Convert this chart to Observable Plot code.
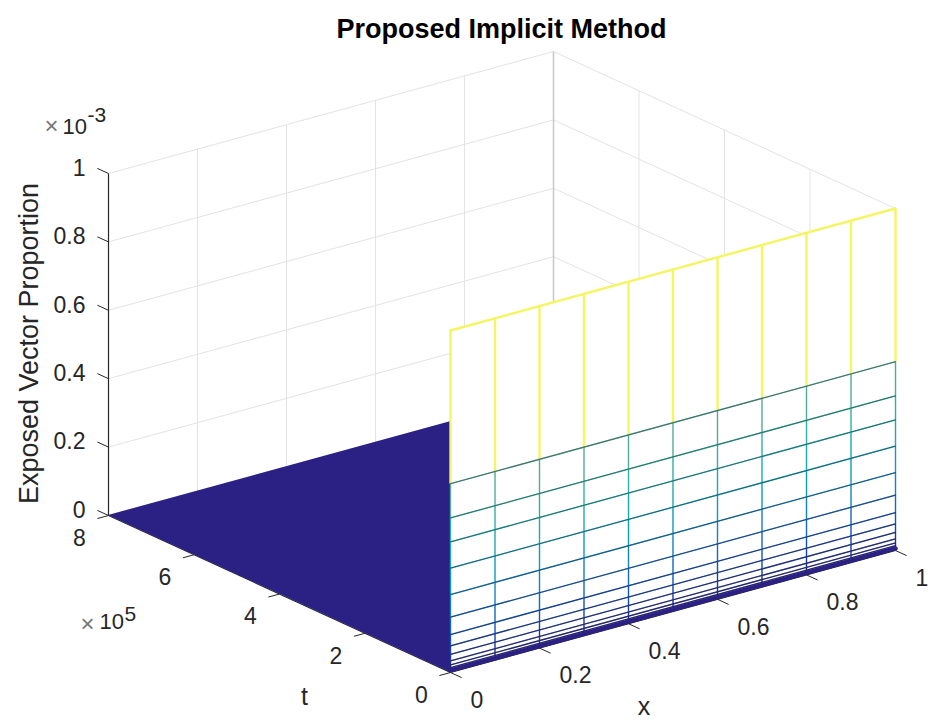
<!DOCTYPE html>
<html><head><meta charset="utf-8">
<script src="https://cdn.jsdelivr.net/npm/d3@7"></script>
<script src="https://cdn.jsdelivr.net/npm/@observablehq/plot@0.6"></script>
<style>html,body{margin:0;padding:0;background:#fff}svg{display:block}</style>
</head><body><div id="c"></div>
<script>
// values: x (0..1), t (x 10^5), z (x 10^-3)
const xMesh = [0,0.1,0.2,0.3,0.4,0.5,0.6,0.7,0.8,0.9,1];
const zLevels = [1,0.552,0.452,0.382,0.305,0.228,0.162,0.111,0.078,0.053,0.034,0.022,0.014,0.008,0.004];
const xTicks = [0,0.2,0.4,0.6,0.8,1];
const tTicks = [0,2,4,6,8];
const zTicks = [0,0.2,0.4,0.6,0.8,1];
const tMax = 8;
const parulaStops = [0,0.1,0.2,0.3,0.4,0.5,0.6,0.8,1];
const parulaColors = ["#2b2185","#0f4fc0","#1478c8","#0a9cc0","#1fb0ac","#3cb09a","#68a596","#d8d860","#f5f463"];

// oblique view of the MATLAB box
const O=[450,672], ex=[445,-122], et=[-342,-157], ez=[0,-342];
const px = d => O[0]+ex[0]*d.x+et[0]*d.t/tMax+ez[0]*d.z;
const py = d => O[1]+ex[1]*d.x+et[1]*d.t/tMax+ez[1]*d.z;
const seg = (a,b,extra={}) => ({x1:px(a),y1:py(a),x2:px(b),y2:py(b),...extra});

// back-plane grid
const grid = [
  ...zTicks.map(z=>seg({x:0,t:tMax,z},{x:1,t:tMax,z})),
  ...zTicks.map(z=>seg({x:1,t:tMax,z},{x:1,t:0,z})),
  ...xTicks.slice(1,-1).map(x=>seg({x,t:tMax,z:0},{x,t:tMax,z:1})),
  ...tTicks.slice(1,-1).map(t=>seg({x:1,t,z:0},{x:1,t,z:1}))
];
const cornerEdge = [seg({x:1,t:tMax,z:0},{x:1,t:tMax,z:1})];

// floor and wall
const floor = [{x:0},{x:1}].map(d=>({x1:px({x:d.x,t:0,z:0}),y1:py({x:d.x,t:0,z:0}),x2:px({x:d.x,t:tMax,z:0}),y2:py({x:d.x,t:tMax,z:0})}));
const wall = [{x:0},{x:1}].map(d=>({x1:px({x:d.x,t:0,z:0}),y1:py({x:d.x,t:0,z:0}),x2:px({x:d.x,t:0,z:1}),y2:py({x:d.x,t:0,z:1})}));

// mesh
const rows = zLevels.flatMap(z=>[{px:px({x:0,t:0,z}),py:py({x:0,t:0,z}),level:z},{px:px({x:1,t:0,z}),py:py({x:1,t:0,z}),level:z}]);
const cols = xMesh.flatMap(x=>zLevels.map((z,i)=>{const low=i<zLevels.length-1?zLevels[i+1]:0;return seg({x,t:0,z},{x,t:0,z:low},{level:z});}));
const strip = [0,1].map(x=>({px:px({x,t:0,z:0.006}),py:py({x,t:0,z:0.006})}));

// ticks and labels
const xTickData = xTicks.map(v=>({v,...seg({x:v,t:0,z:0},{x:v,t:-0.26,z:0})}));
const tTickData = tTicks.map(v=>({v,...seg({x:0,t:v,z:0},{x:-0.025,t:v,z:0})}));
const zTickData = zTicks.map(v=>({v,...seg({x:0,t:tMax,z:v},{x:0,t:tMax+0.26,z:v})}));
const axes = [seg({x:0,t:tMax,z:0},{x:0,t:tMax,z:1}),seg({x:0,t:0,z:0},{x:0,t:tMax,z:0}),seg({x:0,t:0,z:0},{x:1,t:0,z:0})];

const ink="#262626", font="Liberation Sans, Arial, sans-serif";
const lab = {fontSize:23,fill:ink,fontFamily:font,lineAnchor:"middle"};
const zTop = {x:0,t:tMax,z:1}, tEnd={x:0,t:tMax,z:0};

const chart = Plot.plot({
  width:939,height:728,margin:0,
  x:{domain:[0,939],range:[0,939],axis:null},
  y:{domain:[0,728],range:[0,728],axis:null},
  color:{type:"linear",domain:parulaStops,range:parulaColors},
  style:{background:"#fff",fontFamily:font},
  marks:[
    Plot.link(grid,{x1:"x1",y1:"y1",x2:"x2",y2:"y2",stroke:"#e3e3e3",strokeWidth:1}),
    Plot.link(cornerEdge,{x1:"x1",y1:"y1",x2:"x2",y2:"y2",stroke:"#c8c8c8",strokeWidth:1.5}),
    Plot.link(axes,{x1:"x1",y1:"y1",x2:"x2",y2:"y2",stroke:ink,strokeWidth:1.2}),
    Plot.area(floor,{x1:"x1",y1:"y1",x2:"x2",y2:"y2",fill:"#2b2185"}),
    Plot.area(wall,{x1:"x1",y1:"y1",x2:"x2",y2:"y2",fill:"#fff"}),
    Plot.link(cols,{x1:"x1",y1:"y1",x2:"x2",y2:"y2",stroke:"level",strokeWidth:d=>d.level===1?2.4:1.4}),
    Plot.line(rows,{x:"px",y:"py",z:"level",stroke:"level",strokeWidth:d=>d.level===1?2.4:1.3}),
    Plot.line(rows.filter(d=>d.level<1),{x:"px",y:"py",z:"level",stroke:"#222",strokeOpacity:0.4,strokeWidth:1.2}),
    Plot.line(strip,{x:"px",y:"py",stroke:"#2b2185",strokeWidth:4.5}),
    Plot.link(xTickData,{x1:"x1",y1:"y1",x2:"x2",y2:"y2",stroke:ink,strokeWidth:1}),
    Plot.link(tTickData,{x1:"x1",y1:"y1",x2:"x2",y2:"y2",stroke:ink,strokeWidth:1}),
    Plot.link(zTickData,{x1:"x1",y1:"y1",x2:"x2",y2:"y2",stroke:ink,strokeWidth:1}),
    Plot.text(xTickData,{x:d=>px({x:d.v,t:0,z:0}),y:d=>py({x:d.v,t:0,z:0}),text:d=>String(d.v),dx:20,dy:28,textAnchor:"start",...lab}),
    Plot.text(tTickData,{x:d=>px({x:0,t:d.v,z:0}),y:d=>py({x:0,t:d.v,z:0}),text:d=>String(d.v),dx:-29,dy:23,...lab}),
    Plot.text(zTickData,{x:d=>px({x:0,t:tMax,z:d.v}),y:d=>py({x:0,t:tMax,z:d.v}),text:d=>String(d.v),dx:-23,dy:-5,textAnchor:"end",...lab}),
    // axis labels
    Plot.text(["Proposed Implicit Method"],{x:()=>501,y:()=>29,text:d=>d,fontSize:27,fontWeight:"bold",fill:"#000",fontFamily:font,lineAnchor:"middle"}),
    Plot.text(["Exposed Vector Proportion"],{x:()=>29,y:()=>343,text:d=>d,rotate:-90,fontSize:27,fill:ink,fontFamily:font,lineAnchor:"middle"}),
    Plot.text(["x"],{x:()=>px({x:0.5,t:0,z:0}),y:()=>py({x:0.5,t:0,z:0}),text:d=>d,dx:-29,dy:95,...lab,fontSize:25}),
    Plot.text(["t"],{x:()=>px({x:0,t:4,z:0}),y:()=>py({x:0,t:4,z:0}),text:d=>d,dx:25,dy:103,...lab,fontSize:25}),
    // exponents
    Plot.text(["×"],{x:()=>px(zTop),y:()=>py(zTop),text:d=>d,dx:-57,dy:-47,...lab,fontSize:24,fill:"#777"}),
    Plot.text(["10"],{x:()=>px(zTop),y:()=>py(zTop),text:d=>d,dx:-46,dy:-47,textAnchor:"start",...lab,fontSize:22}),
    Plot.text(["-3"],{x:()=>px(zTop),y:()=>py(zTop),text:d=>d,dx:-21,dy:-58,textAnchor:"start",...lab,fontSize:21}),
    Plot.text(["×"],{x:()=>px(tEnd),y:()=>py(tEnd),text:d=>d,dx:-21,dy:109,...lab,fontSize:24,fill:"#777"}),
    Plot.text(["10"],{x:()=>px(tEnd),y:()=>py(tEnd),text:d=>d,dx:-9,dy:106,textAnchor:"start",...lab,fontSize:22}),
    Plot.text(["5"],{x:()=>px(tEnd),y:()=>py(tEnd),text:d=>d,dx:16,dy:99,textAnchor:"start",...lab,fontSize:21})
  ]
});
document.getElementById("c").appendChild(chart);
</script></body></html>
